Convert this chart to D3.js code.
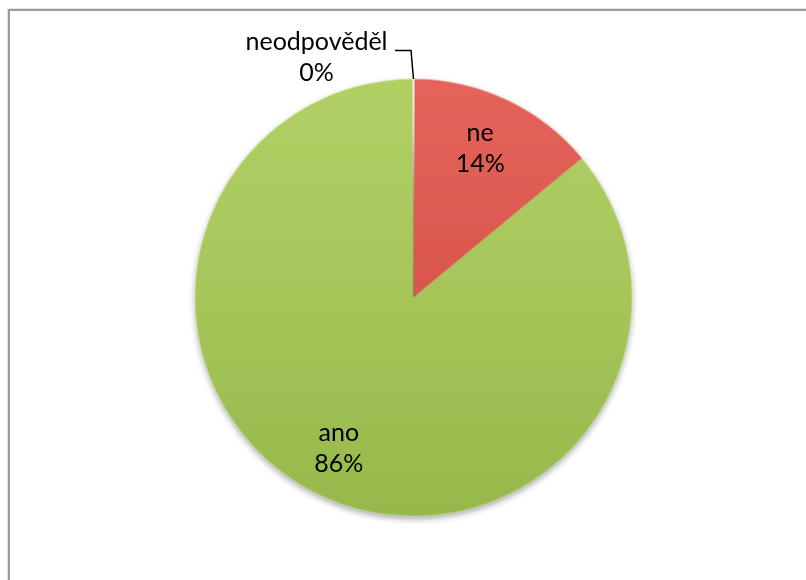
<!DOCTYPE html>
<html>
<head>
<meta charset="utf-8">
<script src="https://cdn.jsdelivr.net/npm/d3@7"></script>
<style>
  html, body { margin: 0; padding: 0; background: #fff; }
  svg { display: block; }
  text { font-family: "Lato", "Open Sans", sans-serif; fill: #000; }
</style>
</head>
<body>
<svg id="chart" width="806" height="580"></svg>
<script>
// Answers and their shares (percent)
const categories = ["ne", "ano", "neodpověděl"];
const values = [14, 86, 0];

const W = 806, H = 580;
const cx = 413.5, cy = 297.5, R = 218.5;
const fontSize = 25;

const svg = d3.select("#chart");
const defs = svg.append("defs");

// chart frame
svg.append("rect").attr("width", W).attr("height", H).attr("fill", "#fff");
svg.append("rect")
  .attr("x", 7.5).attr("y", 8.5).attr("width", W + 10).attr("height", H + 10)
  .attr("fill", "none").attr("stroke", "#e6e6e6").attr("stroke-width", 1);
svg.append("rect")
  .attr("x", 9).attr("y", 10).attr("width", W + 10).attr("height", H + 10)
  .attr("fill", "none").attr("stroke", "#9c9c9c").attr("stroke-width", 2);

// slice colours: [top, middle, bottom]
const palette = {
  "ne": ["#e5645b", "#da564d", "#cc4a41"],
  "ano": ["#b1d065", "#a6c65a", "#97b84b"],
  "neodpověděl": ["#8fa9d6", "#4f81bd", "#3c6aa6"]
};

categories.forEach((c, i) => {
  const g = defs.append("linearGradient")
    .attr("id", "grad" + i)
    .attr("gradientUnits", "userSpaceOnUse")
    .attr("x1", 0).attr("y1", -R).attr("x2", 0).attr("y2", R);
  g.append("stop").attr("offset", "0%").attr("stop-color", palette[c][0]);
  g.append("stop").attr("offset", "50%").attr("stop-color", palette[c][1]);
  g.append("stop").attr("offset", "100%").attr("stop-color", palette[c][2]);
});

// soft drop shadow under the pie
const sh = defs.append("filter").attr("id", "shadow")
  .attr("x", "-20%").attr("y", "-20%").attr("width", "140%").attr("height", "140%");
sh.append("feDropShadow").attr("dx", 0).attr("dy", 3).attr("stdDeviation", 3)
  .attr("flood-color", "#000").attr("flood-opacity", 0.35);

// blur used for the bevel highlight along the slice edges
defs.append("filter").attr("id", "soft")
  .attr("x", "-20%").attr("y", "-20%").attr("width", "140%").attr("height", "140%")
  .append("feGaussianBlur").attr("stdDeviation", 2);

const pie = d3.pie().sort(null).value(d => d.v);
const data = categories.map((c, i) => ({ c, v: values[i], i }));
const arcs = pie(data);
const total = d3.sum(values);
const pct = d3.format(".0%");

const arc = d3.arc().innerRadius(0).outerRadius(R);

const pieG = svg.append("g").attr("transform", `translate(${cx},${cy})`);
const body = pieG.append("g").attr("filter", "url(#shadow)");

arcs.forEach((a, k) => {
  const clipId = "clip" + k;
  defs.append("clipPath").attr("id", clipId)
    .attr("transform", `translate(${cx},${cy})`)
    .append("path").attr("d", arc(a));

  const s = body.append("g");
  s.append("path")
    .attr("d", arc(a))
    .attr("fill", `url(#grad${a.data.i})`);

  // bevel: light inner rim and darker outline, clipped to the slice
  const bevel = s.append("g").attr("clip-path", `url(#${clipId})`);
  bevel.append("path")
    .attr("d", arc(a))
    .attr("fill", "none")
    .attr("stroke", "#fff")
    .attr("stroke-opacity", 0.5)
    .attr("stroke-width", 10)
    .attr("filter", "url(#soft)");
  bevel.append("path")
    .attr("d", arc(a))
    .attr("fill", "none")
    .attr("stroke", palette[a.data.c][2])
    .attr("stroke-opacity", 0.9)
    .attr("stroke-width", 2.5);
});

// the zero share shows only as a thin light seam at the top
const zeroArc = arcs.find(a => a.data.v === 0);
if (zeroArc) {
  const seam = defs.append("linearGradient")
    .attr("id", "seam").attr("gradientUnits", "userSpaceOnUse")
    .attr("x1", 0).attr("y1", -R).attr("x2", 0).attr("y2", 0);
  seam.append("stop").attr("offset", "0%").attr("stop-color", "#f4f4f4").attr("stop-opacity", 1);
  seam.append("stop").attr("offset", "25%").attr("stop-color", "#e8e8e8").attr("stop-opacity", 0.8);
  seam.append("stop").attr("offset", "60%").attr("stop-color", "#888").attr("stop-opacity", 0.25);
  seam.append("stop").attr("offset", "100%").attr("stop-color", "#666").attr("stop-opacity", 0.3);
  const ang = zeroArc.startAngle;
  pieG.append("line")
    .attr("x1", 0).attr("y1", 0)
    .attr("x2", R * Math.sin(ang)).attr("y2", -R * Math.cos(ang))
    .attr("stroke", "url(#seam)").attr("stroke-width", 2);
}

// labels inside the slices
const labelArc = d3.arc().innerRadius(166).outerRadius(166);
function drawLabel(x, y, a) {
  const t = svg.append("text")
    .attr("text-anchor", "middle")
    .attr("font-size", fontSize);
  t.append("tspan").attr("x", x).attr("y", y - 7.5).text(a.data.c);
  t.append("tspan").attr("x", x).attr("y", y + 23.5).text(pct(a.data.v / total));
}

arcs.forEach(a => {
  if (a.data.v > 0) {
    const [lx, ly] = labelArc.centroid(a);
    drawLabel(cx + lx - 4, cy + ly + 1, a);
  }
});

// zero share: label outside with a leader line to the rim
if (zeroArc) {
  const ang = zeroArc.startAngle;
  const px = cx + R * Math.sin(ang), py = cy - R * Math.cos(ang);
  svg.append("path")
    .attr("d", d3.line()([[px - 18.5, py - 28.5], [px - 2.5, py - 28.5], [px, py]]))
    .attr("fill", "none").attr("stroke", "#000").attr("stroke-width", 1.5);
  drawLabel(px - 97, py - 22, zeroArc);
}
</script>
</body>
</html>
